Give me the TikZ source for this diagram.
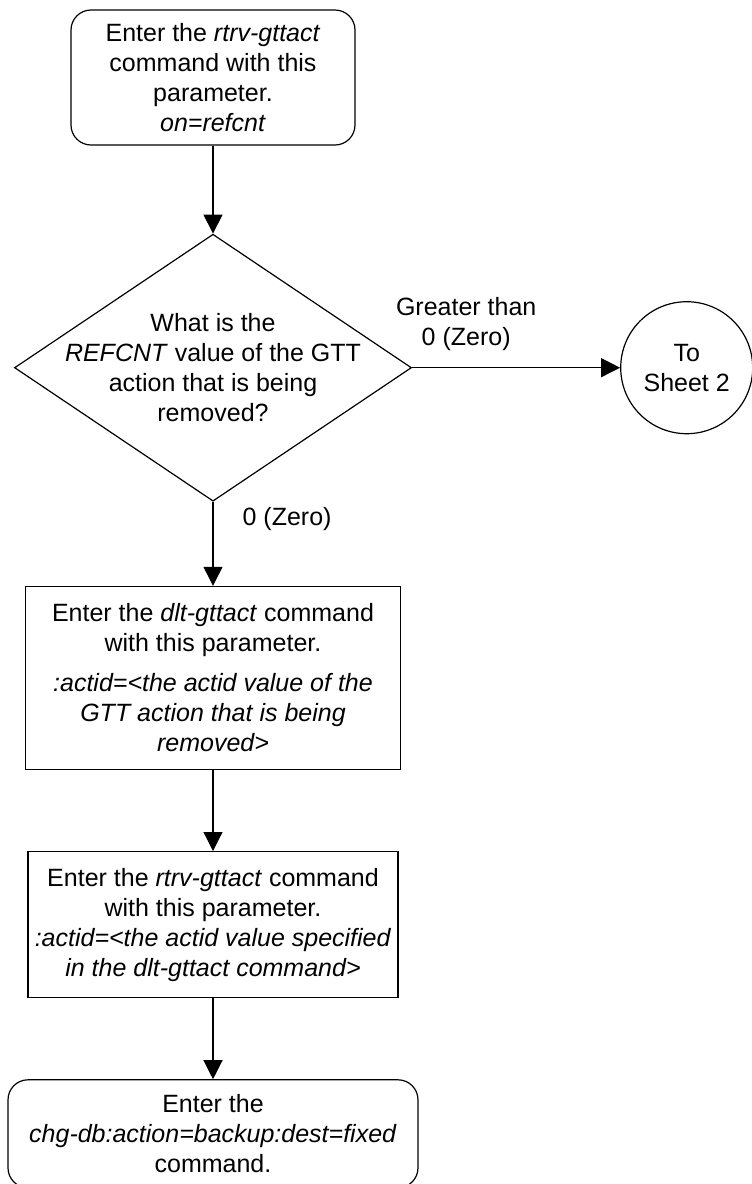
\documentclass[tikz,border=0pt]{standalone}
\usepackage{fontspec}
\setmainfont{Liberation Sans}
\usetikzlibrary{arrows.meta,positioning,shapes.geometric}

\begin{document}
\begin{tikzpicture}[>={Triangle[length=9.5pt,width=9.5pt]}, line width=0.6pt,
  font=\fontsize{12.5}{15}\selectfont,
  cmd/.style={draw, rounded corners=10pt, align=center, inner sep=0pt},
  act/.style={draw, align=center, inner sep=0pt},
  query/.style={draw, diamond, inner sep=0pt, minimum width=198.5pt, minimum height=133.5pt},
  conn/.style={draw, circle, inner sep=0pt, minimum size=66pt, align=center},
  lbl/.style={inner sep=0pt, align=center}]
\useasboundingbox (0,0) rectangle (375.5pt,-592pt);
\node[cmd, minimum width=142pt, minimum height=67.5pt] (enter) at (106.5pt,-38.75pt)
  {Enter the \textit{rtrv-gttact}\\command with this\\parameter.\\\textit{on=refcnt}};
\node[query, below=44pt of enter] (q) {};
\node[lbl] (qtext) at (q.center)
  {What is the\\\textit{REFCNT} value of the GTT\\action that is being\\removed?};
\node[conn, right=104pt of q] (sheet) {To\\Sheet 2};
\node[act, below=42pt of q, minimum width=187.5pt, minimum height=91.5pt] (dlt)
  {Enter the \textit{dlt-gttact} command\\with this parameter.\\[5pt]
   \textit{:actid=<the actid value of the}\\\textit{GTT action that is being}\\\textit{removed>}};
\node[act, below=40.5pt of dlt, minimum width=185pt, minimum height=73pt] (rtrv)
  {Enter the \textit{rtrv-gttact} command\\with this parameter.\\
   \textit{:actid=<the actid value specified}\\\textit{in the dlt-gttact command>}};
\node[cmd, below=40.5pt of rtrv, minimum width=205pt, minimum height=54pt] (chg)
  {Enter the\\\textit{chg-db:action=backup:dest=fixed}\\command.};
\draw[->] (enter) -- (q);
\draw[->] (q) -- node[lbl, pos=0.26, yshift=22pt] (gt) {Greater than\\0 (Zero)} (sheet);
\draw[->] (q) -- node[lbl, pos=0.2, right=14.5pt] (zero) {0 (Zero)} (dlt);
\draw[->] (dlt) -- (rtrv);
\draw[->] (rtrv) -- (chg);
\end{tikzpicture}
\end{document}
